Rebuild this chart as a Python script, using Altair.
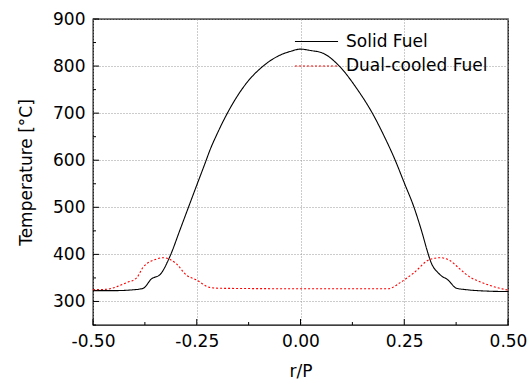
import altair as alt
import pandas as pd

# Solid fuel profile
solid_x = [-0.5, -0.45, -0.40, -0.379, -0.359, -0.3386, -0.3145, -0.29, -0.27, -0.25, -0.2285, -0.218, -0.202,
           -0.17, -0.13, -0.09, -0.05, -0.025, 0.0, 0.025, 0.055, 0.0935, 0.135, 0.175, 0.2, 0.2277, 0.25,
           0.2735, 0.29, 0.308, 0.312, 0.336, 0.355, 0.376, 0.40, 0.45, 0.5]
solid_t = [323, 323, 325, 328, 348, 357, 396, 453, 500, 547, 597, 622, 654,
           710, 764, 800, 823, 831, 836, 833, 827, 800, 753, 697, 654, 601, 552,
           500, 455, 400, 389, 357, 346, 328, 325, 322, 321]

# Dual-cooled fuel profile
dual_x = [-0.5, -0.467, -0.419, -0.395, -0.379, -0.347, -0.331, -0.299, -0.275, -0.251, -0.219, -0.194,
          0.0, 0.2115, 0.24, 0.272, 0.311, 0.336, 0.36, 0.384, 0.408, 0.432, 0.4565, 0.5]
dual_t = [325, 326, 340, 350, 373, 390, 393, 380, 356, 346, 330, 328,
          327, 327, 340, 360, 389, 393, 387, 369, 352, 342, 334, 324]

series = ["Solid Fuel", "Dual-cooled Fuel"]
x_major = [-0.5, -0.25, 0.0, 0.25, 0.5]
x_minor = [-0.375, -0.125, 0.125, 0.375]
y_major = [300, 400, 500, 600, 700, 800, 900]
y_minor = [250, 350, 450, 550, 650, 750, 850]

df = pd.concat([
    pd.DataFrame({"x": solid_x, "t": solid_t, "s": series[0], "o": range(len(solid_x))}),
    pd.DataFrame({"x": dual_x, "t": dual_t, "s": series[1], "o": range(len(dual_x))}),
])

FONT = "DejaVu Sans"
FS = 17
W, H = 415, 306
xs = alt.Scale(domain=[-0.5, 0.5], nice=False, zero=False)
ys = alt.Scale(domain=[250, 900], nice=False, zero=False)

legend = alt.Legend(orient="none", legendX=215, legendY=14, title=None,
                    symbolType="M-4,0H4", symbolSize=116, symbolStrokeWidth=1.1,
                    labelFontSize=FS, labelFont=FONT, labelColor="black",
                    labelOffset=21, rowPadding=6.5)

lines = alt.Chart(df).mark_line(strokeWidth=1.1, interpolate="monotone").encode(
    x=alt.X("x:Q", scale=xs, title="r/P",
            axis=alt.Axis(values=x_major, grid=True,
                          labelExpr="(datum.value < 0 ? '-' : '') + format(abs(datum.value), '.2f')")),
    y=alt.Y("t:Q", scale=ys, title="Temperature [°C]",
            axis=alt.Axis(values=y_major, grid=True)),
    order="o:Q",
    color=alt.Color("s:N", scale=alt.Scale(domain=series, range=["black", "red"]), legend=legend),
    strokeDash=alt.StrokeDash("s:N", scale=alt.Scale(domain=series, range=[[1, 0], [2, 2]]), legend=legend),
)

xmaj = alt.Chart(pd.DataFrame({"v": x_major})).mark_rule(color="black").encode(
    x=alt.X("v:Q", scale=xs), y=alt.value(H), y2=alt.value(H - 6))
xmin = alt.Chart(pd.DataFrame({"v": x_minor})).mark_rule(color="black").encode(
    x=alt.X("v:Q", scale=xs), y=alt.value(H), y2=alt.value(H - 3))
ymaj = alt.Chart(pd.DataFrame({"v": y_major})).mark_rule(color="black").encode(
    y=alt.Y("v:Q", scale=ys), x=alt.value(0), x2=alt.value(6))
ymin = alt.Chart(pd.DataFrame({"v": y_minor})).mark_rule(color="black").encode(
    y=alt.Y("v:Q", scale=ys), x=alt.value(0), x2=alt.value(3))

chart = alt.layer(lines, xmaj, xmin, ymaj, ymin).properties(
    width=W, height=H,
    autosize=alt.AutoSizeParams(type="none"),
    padding={"left": 93, "top": 19, "right": 24, "bottom": 58},
).configure_view(stroke="black", strokeWidth=1.3).configure_axis(
    ticks=False, domain=False, labelFont=FONT, labelFontSize=FS, labelColor="black",
    labelPadding=8, labelFlush=False, labelOverlap=False,
    titleFont=FONT, titleFontSize=FS, titleFontWeight="normal",
    titleColor="black", gridColor="#999999", gridDash=[1, 2], gridWidth=1,
).configure_axisX(titlePadding=14).configure_axisY(titlePadding=17)

chart.save("out.html", embed_options={"renderer": "svg", "actions": False})
